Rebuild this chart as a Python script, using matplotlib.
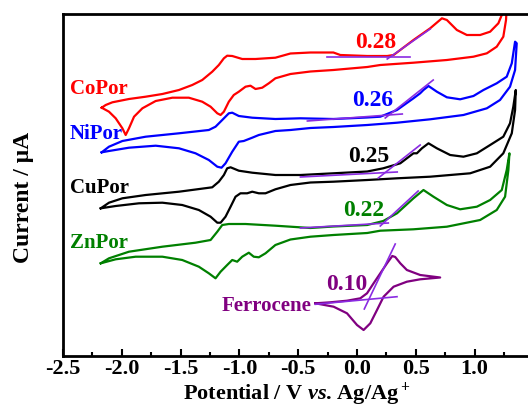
import matplotlib
matplotlib.use("Agg")
import matplotlib.pyplot as plt
from matplotlib.ticker import MultipleLocator

plt.rcParams['font.family'] = ['Liberation Serif', 'DejaVu Serif']
plt.rcParams['font.weight'] = 'bold'
plt.rcParams['axes.unicode_minus'] = False
plt.rcParams['mathtext.fontset'] = 'custom'
plt.rcParams['mathtext.rm'] = 'Liberation Serif:bold'
plt.rcParams['mathtext.it'] = 'Liberation Serif:bold:italic'
plt.rcParams['mathtext.bf'] = 'Liberation Serif:bold'

# ---------------- data (potential in V vs Ag/Ag+, current in arbitrary offset units) -------------
co_E = [-2.171, -2.137, -2.080, -1.939, -1.797, -1.655, -1.514, -1.401, -1.316, -1.231, -1.175, -1.132,
        -1.104, -1.061, -0.976, -0.863, -0.694, -0.566, -0.396, -0.201, -0.142, 0.087, 0.257, 0.311,
        0.480, 0.622, 0.722, 0.764, 0.849, 0.934, 1.047, 1.132, 1.202, 1.231, 1.259, 1.276,
        1.267, 1.244, 1.188, 1.104, 0.990, 0.764, 0.480, 0.198, 0.087, -0.201, -0.396, -0.566, -0.694,
        -0.750, -0.806, -0.863, -0.906, -0.948, -1.005, -1.048, -1.090, -1.132, -1.160, -1.188, -1.245,
        -1.316, -1.430, -1.570, -1.712, -1.825, -1.896, -1.939, -1.967, -1.995, -2.052, -2.109, -2.171]
co_I = [24.83, 25.10, 25.37, 25.70, 25.93, 26.20, 26.60, 27.10, 27.60, 28.43, 29.10, 29.77,
        30.03, 30.00, 29.70, 29.70, 29.83, 30.25, 30.35, 30.35, 30.10, 30.00, 30.00, 30.10,
        31.60, 32.77, 33.77, 33.60, 32.60, 32.10, 32.10, 32.43, 33.27, 34.10, 35.10, 35.60,
        33.60, 31.93, 30.93, 30.27, 29.93, 29.60, 29.33, 29.10, 28.90, 28.60, 28.45, 28.20, 27.77,
        27.27, 26.83, 26.70, 27.03, 26.93, 26.43, 26.10, 25.43, 24.43, 24.10, 24.27, 24.93,
        25.43, 25.83, 25.83, 25.50, 24.77, 23.93, 22.77, 22.10, 22.77, 23.77, 24.43, 24.83]

ni_E = [-2.171, -2.109, -1.995, -1.797, -1.514, -1.260, -1.203, -1.146, -1.090, -1.061, -1.005, -0.891,
        -0.694, -0.481, -0.201, 0.087, 0.198, 0.340, 0.480, 0.537, 0.565, 0.608, 0.679, 0.764, 0.877,
        0.990, 1.075, 1.188, 1.273, 1.316, 1.344,
        1.358, 1.344, 1.301, 1.216, 1.104, 0.905, 0.622, 0.340, 0.087, -0.201, -0.396, -0.566, -0.694,
        -0.835, -0.891, -0.963, -1.005, -1.061, -1.118, -1.152, -1.188, -1.260, -1.373, -1.514, -1.712,
        -1.939, -2.109, -2.171]
ni_I = [20.37, 20.93, 21.50, 21.93, 22.27, 22.60, 22.93, 23.60, 24.27, 24.33, 24.00, 23.83,
        23.70, 23.77, 23.70, 23.85, 23.93, 24.60, 25.77, 26.27, 26.60, 27.00, 26.43, 25.87, 25.67,
        26.00, 26.60, 27.27, 27.93, 29.27, 31.43,
        31.27, 28.60, 26.93, 25.60, 24.77, 24.10, 23.67, 23.33, 23.10, 22.90, 22.80, 22.60, 22.50,
        22.10, 21.83, 21.50, 21.43, 20.43, 19.27, 18.83, 18.93, 19.60, 20.27, 20.77, 21.03,
        20.83, 20.50, 20.37]

cu_E = [-2.179, -2.109, -1.995, -1.797, -1.514, -1.231, -1.175, -1.132, -1.104, -1.075, -1.005, -0.891,
        -0.694, -0.481, -0.201, 0.087, 0.223, 0.368, 0.480, 0.509, 0.552, 0.608, 0.679, 0.792, 0.905,
        1.019, 1.132, 1.244, 1.301, 1.329, 1.350,
        1.344, 1.316, 1.244, 1.132, 0.962, 0.622, 0.340, 0.087, -0.201, -0.396, -0.566, -0.694, -0.778,
        -0.835, -0.891, -0.934, -0.991, -1.033, -1.075, -1.118, -1.160, -1.188, -1.245, -1.345, -1.486,
        -1.655, -1.854, -2.052, -2.179]
cu_I = [14.77, 15.33, 15.77, 16.10, 16.43, 16.87, 17.43, 18.10, 18.77, 18.87, 18.53, 18.33,
        18.10, 18.10, 18.27, 18.45, 18.77, 19.27, 20.27, 20.27, 20.77, 21.27, 20.77, 20.10, 19.93,
        20.27, 21.10, 21.93, 23.27, 24.93, 26.60,
        24.60, 22.27, 20.27, 18.93, 18.27, 17.93, 17.77, 17.60, 17.43, 17.35, 17.10, 16.67, 16.27,
        16.27, 16.43, 16.27, 16.27, 15.93, 14.93, 13.93, 13.33, 13.33, 13.93, 14.60, 15.10,
        15.33, 15.27, 15.00, 14.77]

zn_E = [-2.179, -2.109, -1.939, -1.655, -1.373, -1.245, -1.188, -1.146, -1.090, -0.948, -0.694, -0.396,
        -0.201, 0.087, 0.223, 0.340, 0.480, 0.565, 0.650, 0.764, 0.877, 1.019, 1.132, 1.231, 1.273,
        1.296,
        1.287, 1.259, 1.188, 1.047, 0.764, 0.480, 0.198, 0.087, -0.201, -0.396, -0.566, -0.694, -0.778,
        -0.835, -0.878, -0.920, -0.976, -1.019, -1.061, -1.104, -1.160, -1.203, -1.260, -1.345, -1.486,
        -1.655, -1.882, -2.052, -2.179]
zn_I = [9.27, 9.77, 10.43, 10.93, 11.33, 11.60, 12.43, 13.10, 13.20, 13.20, 13.03, 12.80,
        12.95, 13.10, 13.50, 14.27, 15.77, 16.60, 15.93, 15.10, 14.67, 14.93, 15.60, 16.60, 18.60,
        20.27,
        18.60, 15.93, 14.60, 13.60, 12.93, 12.67, 12.53, 12.30, 12.10, 11.93, 11.65, 11.10, 10.27,
        9.87, 9.93, 10.33, 9.93, 9.43, 9.60, 9.10, 8.43, 7.77, 8.27, 8.93, 9.60,
        9.93, 9.93, 9.67, 9.27]

fc_E = [-0.354, -0.227, -0.085, 0.028, 0.085, 0.141, 0.198, 0.255, 0.300, 0.325, 0.368, 0.424, 0.537,
        0.707, 0.537, 0.424, 0.311, 0.226, 0.170, 0.113, 0.056, 0.000, -0.085, -0.199, -0.354]
fc_I = [5.27, 5.37, 5.53, 5.77, 6.27, 7.27, 8.27, 9.27, 10.00, 9.90, 9.27, 8.60, 8.10,
        7.85, 7.67, 7.43, 6.93, 5.93, 4.60, 3.27, 2.60, 3.10, 4.27, 4.93, 5.27]

# onset tangent lines: (E1, I1, E2, I2)
tan_base = [(-0.252, 29.9, 0.452, 29.9), (-0.422, 23.5, 0.385, 24.2), (-0.481, 17.9, 0.342, 18.4),
            (-0.481, 12.8, 0.266, 13.3), (-0.354, 5.17, 0.340, 5.93)]
tan_rise = [(0.257, 29.7, 0.622, 32.7), (0.240, 23.8, 0.648, 27.6), (0.181, 17.8, 0.537, 21.1),
            (0.198, 13.0, 0.520, 16.5), (0.062, 4.7, 0.325, 11.2)]
onset_labels = ['0.28', '0.26', '0.25', '0.22', '0.10']
onset_pos = [(0.155, 31.3), (0.130, 25.6), (0.096, 19.9), (0.054, 14.6), (-0.091, 7.1)]
names = ['CoPor', 'NiPor', 'CuPor', 'ZnPor']
name_I = [26.7, 22.2, 16.8, 11.3]
colors = ['#ff0000', '#0000ff', '#000000', '#008000', '#800080']
xticks = [-2.5, -2.0, -1.5, -1.0, -0.5, 0.0, 0.5, 1.0]

# ---------------- figure ----------------
fig = plt.figure(figsize=(5.28, 4.07), dpi=100)
ax = fig.add_axes([63/528, 51/407, 1 - 63/528 + 0.01, 342/407])

curves = [(co_E, co_I), (ni_E, ni_I), (cu_E, cu_I), (zn_E, zn_I), (fc_E, fc_I)]
for (E, I), c in zip(curves, colors):
    ax.plot(E, I, color=c, lw=1.6, solid_joinstyle='round')

tan_color = '#8a2be2'
for (a, b) in zip(tan_base, tan_rise):
    ax.plot([a[0], a[2]], [a[1], a[3]], color=tan_color, lw=1.2)
    ax.plot([b[0], b[2]], [b[1], b[3]], color=tan_color, lw=1.2)

for lab, (x, y), c in zip(onset_labels, onset_pos, colors):
    ax.text(x, y, lab, color=c, fontsize=17, fontweight='bold', ha='center', va='center')

for n, y, c in zip(names, name_I, colors):
    ax.text(-2.44, y, n, color=c, fontsize=15, fontweight='bold', ha='left', va='center')
ax.text(-0.77, 5.0, 'Ferrocene', color=colors[4], fontsize=15, fontweight='bold', ha='center', va='center')

ax.set_xlim(-2.5, 1.454 + 0.01 * 528 / 117.8)
ax.set_ylim(0, 34.2)
ax.set_xticks(xticks)
ax.set_xticklabels(['%.1f' % t for t in xticks])
ax.xaxis.set_minor_locator(MultipleLocator(0.25))
ax.set_yticks([])
ax.tick_params(axis='x', which='major', direction='in', length=5, width=1.5, labelsize=16, pad=2)
ax.tick_params(axis='x', which='minor', direction='in', length=3, width=1.5)
for s in ['left', 'bottom', 'top']:
    ax.spines[s].set_linewidth(2.0)
ax.spines['right'].set_visible(False)

fig.text(297/528, 1 - 399/407, r'Potential / V $\mathit{vs}$. Ag/Ag$^+$', fontsize=16, fontweight='bold',
         ha='center', va='baseline')
fig.text(23/528, 1 - 197/407, 'Current / μA', fontsize=17, fontweight='bold', rotation=90,
         ha='center', va='center')

fig.savefig('out.png', dpi=100)
